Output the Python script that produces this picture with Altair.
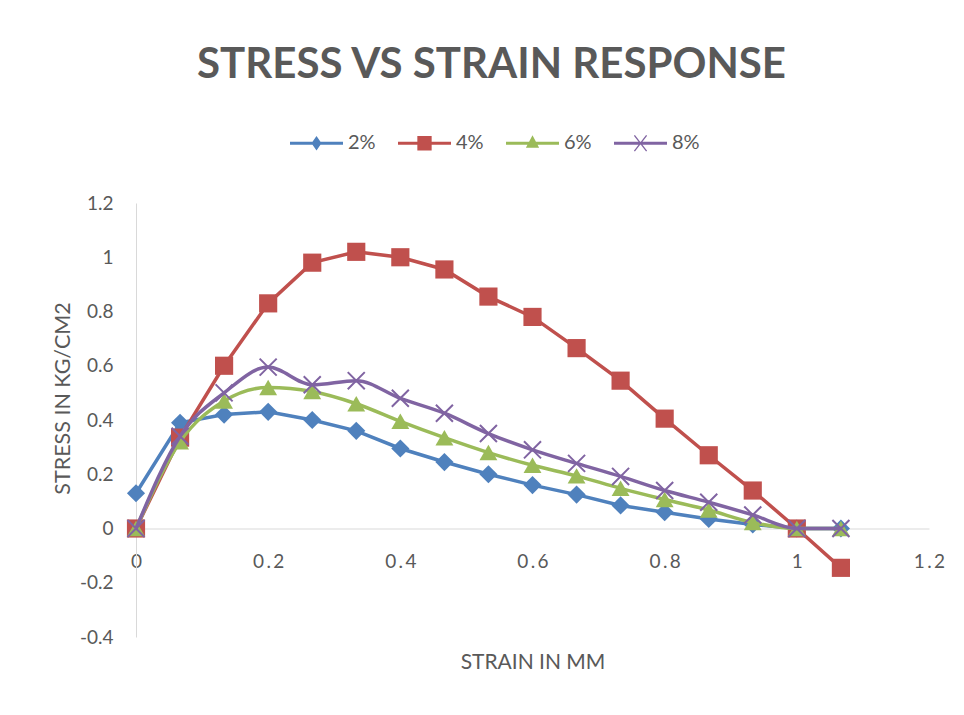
import altair as alt
import pandas as pd

# ---- data ----
strain = [0, 0.0667, 0.1333, 0.2, 0.2667, 0.3333, 0.4, 0.4667, 0.5333,
          0.6, 0.6667, 0.7333, 0.8, 0.8667, 0.9333, 1.0, 1.0667]
stress_2 = [0.13, 0.39, 0.42, 0.43, 0.40, 0.36, 0.295, 0.245, 0.20,
            0.16, 0.125, 0.085, 0.06, 0.035, 0.015, 0.0, 0.0]
stress_4 = [0.0, 0.335, 0.60, 0.83, 0.98, 1.02, 1.0, 0.955, 0.855,
            0.78, 0.665, 0.545, 0.405, 0.27, 0.14, 0.0, -0.145]
stress_6 = [0.0, 0.32, 0.47, 0.52, 0.505, 0.46, 0.395, 0.335, 0.28,
            0.233, 0.194, 0.148, 0.107, 0.068, 0.022, 0.0, 0.0]
stress_8 = [0.0, 0.34, 0.50, 0.595, 0.53, 0.545, 0.48, 0.425, 0.35,
            0.29, 0.24, 0.192, 0.14, 0.097, 0.05, 0.0, 0.0]

series_names = ["2%", "4%", "6%", "8%"]
series_colors = ["#4F81BD", "#C0504D", "#9BBB59", "#8064A2"]
x_ticks = [0, 0.2, 0.4, 0.6, 0.8, 1.0, 1.2]
y_ticks = [-0.4, -0.2, 0, 0.2, 0.4, 0.6, 0.8, 1.0, 1.2]

title_text = "STRESS VS STRAIN RESPONSE"
x_title = "STRAIN IN MM"
y_title = "STRESS IN KG/CM2"

rows = []
for name, vals in zip(series_names, [stress_2, stress_4, stress_6, stress_8]):
    for s, v in zip(strain, vals):
        rows.append({"series": name, "strain": s, "stress": v})
df = pd.DataFrame(rows)

GRAY = "#595959"
AXIS_GRAY = "#D9D9D9"
FONT = "Lato"

x_axis = alt.Axis(
    values=x_ticks, labelExpr="replace('' + datum.value, '.', '\u2009.\u2009')",
    orient="bottom", offset=-108.5, domain=True, domainColor=AXIS_GRAY, domainWidth=1,
    ticks=False, grid=False, labelFlush=False, labelPadding=24, labelFont=FONT,
    labelFontSize=19, labelColor=GRAY, title=x_title, titleFont=FONT, titleFontSize=21,
    titleFontWeight="normal", titleColor=GRAY, titleY=134, titleBaseline="middle",
)
y_axis = alt.Axis(
    values=y_ticks, labelExpr="'' + datum.value",
    domain=True, domainColor=AXIS_GRAY, domainWidth=1, ticks=False, grid=False,
    labelFlush=False, labelPadding=23, labelFont=FONT, labelFontSize=19, labelColor=GRAY,
    title=y_title, titleFont=FONT, titleFontSize=21.5, titleFontWeight="normal",
    titleColor=GRAY, titleX=-73, titleY=195, titleAngle=270,
    titleAlign="center", titleBaseline="middle",
)

X = alt.X("strain:Q", scale=alt.Scale(domain=[0, 1.2], nice=False, zero=False), axis=x_axis)
Y = alt.Y("stress:Q", scale=alt.Scale(domain=[-0.4, 1.2], nice=False, zero=False), axis=y_axis)

marker_specs = [
    dict(shape="diamond", filled=True, size=330, interp="linear"),
    dict(shape="square", filled=True, size=330, interp="linear"),
    dict(shape="triangle-up", filled=True, size=320, interp="monotone"),
    dict(shape="M-1,-1L1,1M-1,1L1,-1", filled=False, size=290, interp="monotone"),
]

layers = []
for name, color, spec in zip(series_names, series_colors, marker_specs):
    base = alt.Chart(df).transform_filter(alt.datum.series == name)
    layers.append(
        base.mark_line(color=color, strokeWidth=3.5, interpolate=spec["interp"]).encode(x=X, y=Y)
    )
    if spec["filled"]:
        pts = base.mark_point(shape=spec["shape"], filled=True, color=color,
                              size=spec["size"], opacity=1, strokeWidth=0)
    else:
        pts = base.mark_point(shape=spec["shape"], filled=False, color=color,
                              size=spec["size"], opacity=1, strokeWidth=2)
    layers.append(pts.encode(x=X, y=Y))

# legend symbols: line with the series marker (custom paths, unit = sqrt(size)/2 px)
line_p = "M-1,-0.057L-1,0.057L1,0.057L1,-0.057Z"
legend_paths = [
    line_p + "M0,-0.27L-0.19,0L0,0.27L0.19,0Z",
    line_p + "M-0.27,-0.27L-0.27,0.27L0.27,0.27L0.27,-0.27Z",
    line_p + "M0,-0.3L-0.25,0.17L0.25,0.17Z",
    line_p + "M-0.25,-0.285L0.21,0.315L0.25,0.285L-0.21,-0.315Z"
             "M-0.21,0.315L0.25,-0.285L0.21,-0.315L-0.25,0.285Z",
]

leg = alt.Legend(
    title=None, orient="none", legendX=154, legendY=-86.5, direction="horizontal",
    symbolSize=2809, symbolStrokeWidth=0, symbolOpacity=1,
    labelFont=FONT, labelFontSize=20, labelColor=GRAY, labelOffset=5,
    columnPadding=22, padding=0,
)

legend_layer = alt.Chart(df).transform_filter("false").mark_point(
    filled=True, opacity=1, strokeWidth=0
).encode(
    x=X, y=Y,
    color=alt.Color("series:N", scale=alt.Scale(domain=series_names, range=series_colors), legend=leg),
    shape=alt.Shape("series:N", scale=alt.Scale(domain=series_names, range=legend_paths), legend=leg),
)
layers.append(legend_layer)

chart = alt.layer(*layers).properties(
    width=793, height=434,
    title=alt.TitleParams(title_text, font=FONT, fontSize=42, fontWeight="bold", color=GRAY,
                          anchor="middle", frame="group", dx=-41, offset=-3,
                          baseline="alphabetic"),
    padding={"left": 128, "top": 195, "right": 20, "bottom": 60},
    autosize=alt.AutoSizeParams(type="none"),
    background="white",
).configure_view(stroke=None)

chart.save("out.html", embed_options={"renderer": "svg", "actions": False})
